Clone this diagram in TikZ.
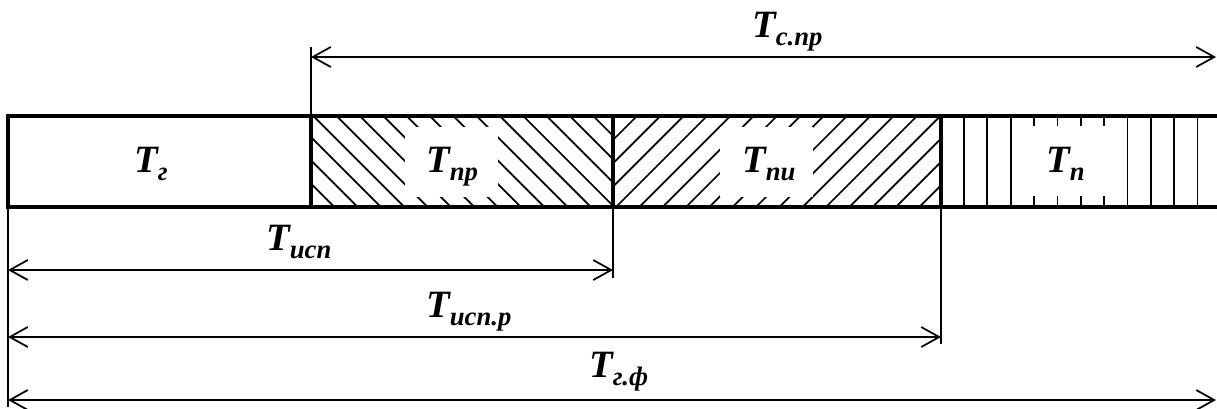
\documentclass[tikz,border=0pt]{standalone}
\usepackage{fontspec}
\setmainfont{Liberation Serif}
\usetikzlibrary{arrows.meta}
\newcommand\tlabel[1]{\fontsize{29}{31}\selectfont\bfseries\itshape T\raisebox{-0.22em}{\fontsize{20}{22}\selectfont #1}}
\begin{document}
\begin{tikzpicture}[x=0.75pt,y=-0.75pt,
  frame/.style={line width=2.4pt},
  thin/.style={line width=1.1pt},
  hatch/.style={line width=1.3pt},
  dim/.style={line width=1.4pt,{Straight Barb[length=13.5pt,width=15pt,line width=1.3pt]}-{Straight Barb[length=13.5pt,width=15pt,line width=1.3pt]}},
  lbl/.style={inner sep=0pt,anchor=base west}]
\useasboundingbox (0,0) rectangle (1217,408);
% hatching T_pr
\begin{scope}
\clip (311,116) rectangle (613,207);
\foreach \i in {-5,...,13} \draw[hatch] (313.3+\i*23.33,116) -- ++(91,91);
\end{scope}
\fill[white] (405,127) rectangle (498,197);
% hatching T_pi
\begin{scope}
\clip (613,116) rectangle (941,207);
\foreach \i in {-1,...,17} \draw[hatch] (637+\i*23.33,116) -- ++(-91,91);
\end{scope}
\fill[white] (720,127) rectangle (813,197);
% hatching T_p
\foreach \i in {0,...,10} \draw[hatch] (964+\i*23.35,116) -- (964+\i*23.35,207);
\fill[white] (1022,126) rectangle (1117,196);
% coordinates
\coordinate (bl) at (8,116);
\coordinate (br) at (1217,116);
\coordinate (bbl) at (8,207);
\coordinate (bbr) at (1217,207);
\coordinate (d1t) at (311,116); \coordinate (d1b) at (311,207);
\coordinate (d2t) at (613,116); \coordinate (d2b) at (613,207);
\coordinate (d3t) at (941,116); \coordinate (d3b) at (941,207);
\coordinate (e1) at (311,47);
\coordinate (e0) at (8,407);
\coordinate (e2) at (613,278);
\coordinate (e3) at (941,344);
\coordinate (a1l) at (311,57); \coordinate (a1r) at (1216,57);
\coordinate (a2l) at (8,270); \coordinate (a2r) at (613,270);
\coordinate (a3l) at (8,337); \coordinate (a3r) at (941,337);
\coordinate (a4l) at (8,400); \coordinate (a4r) at (1216,400);
% extension lines
\draw[thin] (e1) -- (d1t);
\draw[thin] (bbl) -- (e0);
\draw[thin] (d2b) -- (e2);
\draw[thin] (d3b) -- (e3);
% frame
\draw[frame] (br) -- (bl) -- (bbl) -- (bbr);
\draw[frame] (d1t) -- (d1b);
\draw[frame] (d2t) -- (d2b);
\draw[frame] (d3t) -- (d3b);
% dimension arrows
\draw[dim] (a1l) -- (a1r);
\draw[dim] (a2l) -- (a2r);
\draw[dim] (a3l) -- (a3r);
\draw[dim] (a4l) -- (a4r);
% labels
\node[lbl] (tg) at (134,172) {\tlabel{г}};
\node[lbl] (tpr) at (426,172) {\tlabel{пр}};
\node[lbl] (tpi) at (742,172) {\tlabel{пи}};
\node[lbl] (tp) at (1046,172) {\tlabel{п}};
\node[lbl] (tcpr) at (752,37) {\tlabel{с.пр}};
\node[lbl] (tisp) at (266,250) {\tlabel{исп}};
\node[lbl] (tispr) at (426,317) {\tlabel{исп.р}};
\node[lbl] (tgf) at (589,377) {\tlabel{г.ф}};
\end{tikzpicture}
\end{document}
